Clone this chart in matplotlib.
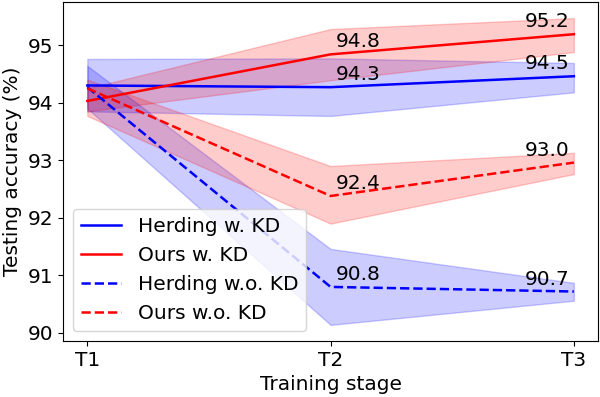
import matplotlib
matplotlib.use('Agg')
import matplotlib.pyplot as plt

stages = ['T1', 'T2', 'T3']

# mean accuracy per training stage
herding_kd = [94.30, 94.27, 94.46]
ours_kd = [94.03, 94.84, 95.19]
herding_nokd = [94.27, 90.80, 90.72]
ours_nokd = [94.25, 92.38, 92.96]

# band limits (low, high)
herding_kd_lo = [93.85, 93.77, 94.18]
herding_kd_hi = [94.76, 94.77, 94.69]
ours_kd_lo = [93.85, 94.39, 94.88]
ours_kd_hi = [94.25, 95.28, 95.47]
herding_nokd_lo = [93.90, 90.14, 90.56]
herding_nokd_hi = [94.64, 91.46, 90.87]
ours_nokd_lo = [93.77, 91.90, 92.76]
ours_nokd_hi = [94.40, 92.90, 93.13]

# labels written next to the T2 / T3 points
label_kd_herding = ['94.3', '94.5']
label_kd_ours = ['94.8', '95.2']
label_nokd_herding = ['90.8', '90.7']
label_nokd_ours = ['92.4', '93.0']

plt.rcParams['font.size'] = 14.5
fig, ax = plt.subplots(figsize=(6, 3.97), dpi=100)
x = list(range(len(stages)))

ax.plot(x, herding_kd, color='b', lw=1.8, label='Herding w. KD')
ax.fill_between(x, herding_kd_lo, herding_kd_hi, color='b', alpha=0.2)
ax.plot(x, ours_kd, color='r', lw=1.8, label='Ours w. KD')
ax.fill_between(x, ours_kd_lo, ours_kd_hi, color='r', alpha=0.2)
ax.plot(x, herding_nokd, color='b', lw=1.8, ls='--', label='Herding w.o. KD')
ax.fill_between(x, herding_nokd_lo, herding_nokd_hi, color='b', alpha=0.2)
ax.plot(x, ours_nokd, color='r', lw=1.8, ls='--', label='Ours w.o. KD')
ax.fill_between(x, ours_nokd_lo, ours_nokd_hi, color='r', alpha=0.2)

for vals, labs in [(herding_kd, label_kd_herding), (ours_kd, label_kd_ours),
                   (herding_nokd, label_nokd_herding), (ours_nokd, label_nokd_ours)]:
    ax.text(1.02, vals[1] + 0.12, labs[0], ha='left', va='baseline')
    ax.text(1.98, vals[2] + 0.12, labs[1], ha='right', va='baseline')

ax.set_xticks(x)
ax.set_xticklabels(stages)
ax.set_yticks([90, 91, 92, 93, 94, 95])
ax.set_ylim(89.86, 95.75)
ax.set_xlabel('Training stage')
ax.set_ylabel('Testing accuracy (%)')
ax.legend(loc='lower left', fontsize=14.5)

plt.subplots_adjust(left=0.105, right=0.997, top=0.995, bottom=0.141)
plt.savefig('out.png')
